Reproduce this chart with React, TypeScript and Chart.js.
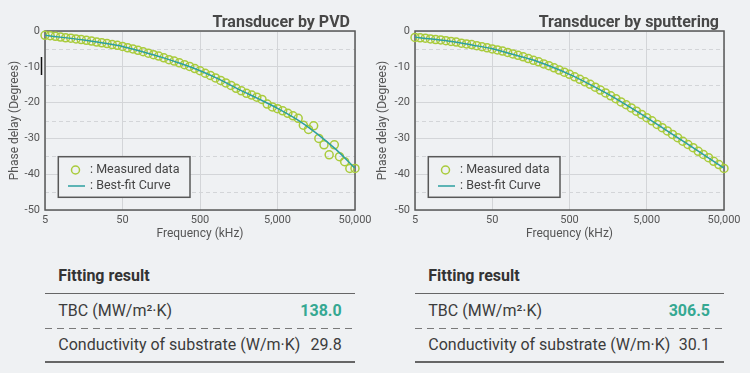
import React, { useEffect, useRef } from "react";
import { Chart, registerables } from "chart.js";

Chart.register(...registerables);

// ---------- data ----------
const frequencies = [
  5, 5.83, 6.8, 7.92, 9.24, 10.77, 12.56, 14.64, 17.07, 19.91, 23.21, 27.06, 31.55, 36.78, 42.89,
  50, 58.3, 68, 79.2, 92.4, 107.7, 125.6, 146.4, 170.7, 199.1, 232.1, 270.6, 315.5, 367.8, 428.9,
  500, 583, 680, 792, 924, 1077, 1256, 1464, 1707, 1991, 2321, 2706, 3155, 3678, 4289,
  5000, 5830, 6800, 7920, 9240, 10770, 12560, 14640, 17070, 19910, 23210, 27060, 31550, 36780, 42890,
  50000,
];

const pvdMeasured = [
  -1.2, -1.3, -1.5, -1.7, -1.9, -2.0, -2.2, -2.4, -2.6, -2.8,
  -3.1, -3.3, -3.5, -3.8, -4.0, -4.3, -4.7, -5.0, -5.4, -5.8,
  -6.2, -6.6, -7.0, -7.5, -8.0, -8.4, -8.9, -9.4, -9.9, -10.5,
  -11.1, -11.8, -12.4, -13.1, -13.8, -14.5, -15.2, -16.0, -16.7,
  -17.4, -17.9, -18.5, -19.1, -20.4, -21.2, -21.7, -22.3, -23.0, -23.7, -24.4,
  -26.3, -27.5, -26.5, -30.0, -31.8, -34.6, -31.8, -35.1, -36.5, -38.4, -38.4,
];

const sputterMeasured = [
  -1.8, -1.9, -2.0, -2.2, -2.4, -2.5, -2.7, -2.9, -3.1, -3.4,
  -3.6, -3.8, -4.1, -4.4, -4.7, -5.0, -5.3, -5.6, -6.0, -6.4,
  -6.8, -7.2, -7.7, -8.2, -8.6, -9.2, -9.7, -10.3, -10.9, -11.5,
  -12.1, -12.8, -13.5, -14.2, -14.9, -15.7, -16.5, -17.3, -18.1, -18.9,
  -19.8, -20.6, -21.5, -22.4, -23.3, -24.2, -25.1, -26.1, -27.0, -27.9,
  -28.9, -29.8, -30.8, -31.7, -32.6, -33.6, -34.5, -35.4, -36.4, -37.3, -38.4,
];

const fitFrequencies = [5, 8.89, 15.81, 28.12, 50, 88.9, 158.1, 281.2, 500, 889, 1581, 2812, 5000, 8891, 15811, 28117, 50000];
const pvdFit = [-1.2, -1.85, -2.5, -3.35, -4.3, -5.75, -7.3, -9.1, -11.1, -13.5, -16.3, -18.9, -21.6, -24.7, -28.5, -33.0, -38.3];
const sputterFit = [-1.75, -2.3, -3.0, -3.95, -4.95, -6.45, -7.9, -9.85, -12.1, -14.75, -17.65, -20.85, -24.2, -27.7, -31.2, -34.75, -38.3];

const xTicks = [5, 50, 500, 5000, 50000];
const yTicks = [-50, -40, -30, -20, -10, 0];
const yMinorTicks = [-45, -35, -25, -15, -5];

const legendLabels = [": Measured data", ": Best-fit Curve"];

// ---------- styles ----------
const BG = "#eff1f3";
const CIRCLE = "#a9cb3b";
const LINE = "#2c9fa0";
const GRID = "#d3d5d8";
const FRAME = "#585858";
const TEXT = "#555";
const FONT = "Roboto";

function makeDecor(title: string, showCursor: boolean) {
  return {
    id: "decor",
    beforeDatasetsDraw(chart: any) {
      const { ctx, chartArea: a, scales } = chart;
      const y = scales.y;
      ctx.save();
      ctx.strokeStyle = GRID;
      ctx.lineWidth = 1;
      ctx.setLineDash([4, 3]);
      yMinorTicks.forEach((v) => {
        const py = Math.round(y.getPixelForValue(v)) + 0.5;
        ctx.beginPath();
        ctx.moveTo(a.left, py);
        ctx.lineTo(a.right, py);
        ctx.stroke();
      });
      ctx.setLineDash([]);
      ctx.strokeStyle = FRAME;
      ctx.lineWidth = 1.5;
      ctx.strokeRect(a.left, a.top, a.right - a.left, a.bottom - a.top);
      ctx.restore();
    },
    afterDraw(chart: any) {
      const { ctx, chartArea: a } = chart;
      ctx.save();
      // title
      ctx.font = `bold 16px ${FONT}`;
      ctx.fillStyle = "#474747";
      ctx.textAlign = "right";
      ctx.textBaseline = "alphabetic";
      ctx.fillText(title, a.right - 5, 26.5);
      // legend box
      const bx = a.left + 13.3;
      const by = a.top + 125.7;
      ctx.fillStyle = BG;
      ctx.fillRect(bx, by, 131.7, 40.6);
      ctx.strokeStyle = FRAME;
      ctx.lineWidth = 1.5;
      ctx.strokeRect(bx, by, 131.7, 40.6);
      const ds = chart.data.datasets;
      // measured symbol
      ctx.beginPath();
      ctx.arc(a.left + 30.5, a.top + 139, 4, 0, Math.PI * 2);
      ctx.strokeStyle = ds[1].borderColor;
      ctx.lineWidth = 1.5;
      ctx.stroke();
      // fit symbol
      ctx.beginPath();
      ctx.moveTo(a.left + 23, a.top + 155);
      ctx.lineTo(a.left + 40, a.top + 155);
      ctx.strokeStyle = ds[0].borderColor;
      ctx.lineWidth = 1.5;
      ctx.stroke();
      ctx.font = `12.5px ${FONT}`;
      ctx.fillStyle = "#444";
      ctx.textAlign = "left";
      ctx.textBaseline = "middle";
      ctx.fillText(legendLabels[0], a.left + 45, a.top + 139);
      ctx.fillText(legendLabels[1], a.left + 45, a.top + 155);
      if (showCursor) {
        ctx.beginPath();
        ctx.moveTo(a.left - 3.5, a.top + 26);
        ctx.lineTo(a.left - 3.5, a.top + 44);
        ctx.strokeStyle = "#111";
        ctx.lineWidth = 1.5;
        ctx.stroke();
      }
      ctx.restore();
    },
  };
}

type ChartProps = {
  left: number;
  title: string;
  measured: number[];
  fit: number[];
  yAxisWidth: number;
  padRight: number;
  yTitlePad: number;
  showCursor: boolean;
};

function PhaseChart({ left, title, measured, fit, yAxisWidth, padRight, yTitlePad, showCursor }: ChartProps) {
  const ref = useRef<HTMLCanvasElement | null>(null);
  useEffect(() => {
    if (!ref.current) return;
    const tickFont = { family: FONT, size: 11 };
    const titleFont = { family: FONT, size: 12 };
    const chart = new Chart(ref.current, {
      type: "scatter",
      data: {
        datasets: [
          {
            label: "Best-fit Curve",
            data: fitFrequencies.map((f, i) => ({ x: f, y: fit[i] })),
            showLine: true,
            borderColor: LINE,
            backgroundColor: LINE,
            borderWidth: 1.5,
            pointRadius: 0,
            cubicInterpolationMode: "monotone",
            order: 0,
          } as any,
          {
            label: "Measured data",
            data: frequencies.map((f, i) => ({ x: f, y: measured[i] })),
            showLine: false,
            borderColor: CIRCLE,
            backgroundColor: "rgba(0,0,0,0)",
            pointRadius: 4,
            pointBorderWidth: 1.5,
            pointStyle: "circle",
            clip: false,
            order: 1,
          } as any,
        ],
      },
      options: {
        responsive: false,
        animation: false,
        events: [],
        layout: { padding: { top: 31, right: padRight, left: 0, bottom: 0 } },
        plugins: {
          legend: { display: false },
          tooltip: { enabled: false },
          title: { display: false },
        },
        scales: {
          x: {
            type: "logarithmic",
            min: 5,
            max: 50000,
            afterBuildTicks: (s: any) => {
              s.ticks = xTicks.map((v) => ({ value: v }));
            },
            afterFit: (s: any) => {
              s.height = 40;
              s.paddingLeft = 0;
              s.paddingRight = 0;
            },
            ticks: {
              callback: (v: any) => Number(v).toLocaleString("en-US"),
              color: TEXT,
              font: tickFont,
              padding: 4,
              maxRotation: 0,
              autoSkip: false,
            },
            grid: { color: GRID, drawTicks: false, lineWidth: 1 },
            border: { display: false },
            title: {
              display: true,
              text: "Frequency (kHz)",
              color: TEXT,
              font: titleFont,
              padding: { top: 0, bottom: 8.8 },
            },
          },
          y: {
            min: -50,
            max: 0,
            afterBuildTicks: (s: any) => {
              s.ticks = yTicks.map((v) => ({ value: v }));
            },
            afterFit: (s: any) => {
              s.width = yAxisWidth;
              s.paddingTop = 0;
              s.paddingBottom = 0;
            },
            ticks: { color: TEXT, font: tickFont, padding: 5 },
            grid: { color: GRID, drawTicks: false, lineWidth: 1 },
            border: { display: false },
            title: {
              display: true,
              text: "Phase delay (Degrees)",
              color: TEXT,
              font: titleFont,
              padding: { top: yTitlePad, bottom: 0 },
            },
          },
        },
      } as any,
      plugins: [makeDecor(title, showCursor)],
    });
    return () => chart.destroy();
  }, []);
  return (
    <canvas
      ref={ref}
      width={375}
      height={250}
      style={{ position: "absolute", left, top: 0, width: 375, height: 250 }}
    />
  );
}

type TableProps = { lineLeft: number; lineWidth: number; textLeft: number; valueRight: number; tbc: string; cond: string };

function FitTable({ lineLeft, lineWidth, textLeft, valueRight, tbc, cond }: TableProps) {
  const txt: React.CSSProperties = {
    position: "absolute",
    fontFamily: FONT,
    fontSize: 16,
    lineHeight: "20px",
    whiteSpace: "nowrap",
    color: "#3c3c3c",
  };
  return (
    <>
      <div style={{ ...txt, left: textLeft, top: 266.2, fontWeight: 700, color: "#333" }}>Fitting result</div>
      <div style={{ position: "absolute", left: lineLeft, top: 292.6, width: lineWidth, height: 1.5, background: "#666" }} />
      <div style={{ ...txt, left: textLeft, top: 301.2 }}>TBC (MW/m²·K)</div>
      <div style={{ ...txt, left: valueRight - 100, width: 100, textAlign: "right", top: 301.2, fontWeight: 700, color: "#35a892" }}>{tbc}</div>
      <div
        style={{
          position: "absolute",
          left: lineLeft,
          top: 327.6,
          width: lineWidth,
          height: 1.5,
          background: "repeating-linear-gradient(to right, #7a7a7a 0px, #7a7a7a 7px, transparent 7px, transparent 12px)",
        }}
      />
      <div style={{ ...txt, left: textLeft, top: 334.5 }}>Conductivity of substrate (W/m·K)</div>
      <div style={{ ...txt, left: valueRight - 100, width: 100, textAlign: "right", top: 334.5 }}>{cond}</div>
      <div style={{ position: "absolute", left: lineLeft, top: 361, width: lineWidth, height: 1.5, background: "#666" }} />
    </>
  );
}

export default function App() {
  return (
    <div
      style={{
        position: "fixed",
        left: 0,
        top: 0,
        width: 750,
        height: 373,
        background: BG,
        overflow: "hidden",
      }}
    >
      <PhaseChart
        left={0}
        title="Transducer by PVD"
        measured={pvdMeasured}
        fit={pvdFit}
        yAxisWidth={45}
        padRight={20}
        yTitlePad={8}
        showCursor={true}
      />
      <PhaseChart
        left={375}
        title="Transducer by sputtering"
        measured={sputterMeasured}
        fit={sputterFit}
        yAxisWidth={40}
        padRight={26}
        yTitlePad={1}
        showCursor={false}
      />
      <FitTable lineLeft={45} lineWidth={310} textLeft={58.3} valueRight={341.7} tbc="138.0" cond="29.8" />
      <FitTable lineLeft={415} lineWidth={309} textLeft={428.3} valueRight={710} tbc="306.5" cond="30.1" />
    </div>
  );
}
